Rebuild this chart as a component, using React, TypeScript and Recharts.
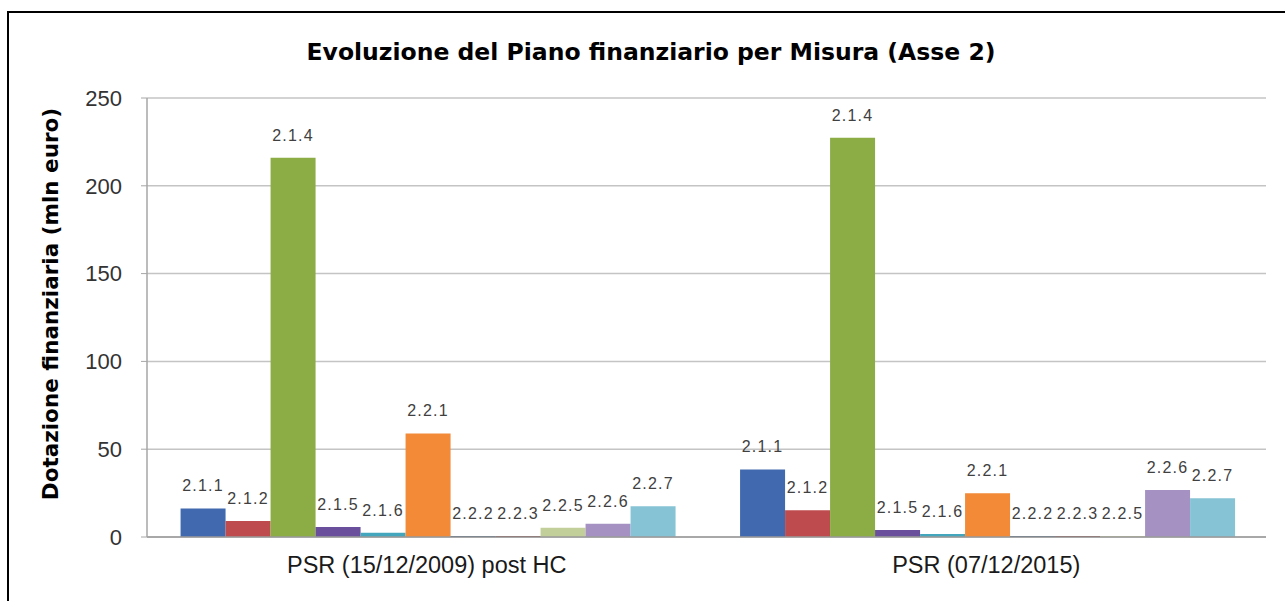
import React from "react";
import {
  BarChart,
  Bar,
  XAxis,
  YAxis,
  CartesianGrid,
  LabelList,
} from "recharts";

const categories = ["PSR (15/12/2009) post HC", "PSR (07/12/2015)"];

const misure = [
  "2.1.1",
  "2.1.2",
  "2.1.4",
  "2.1.5",
  "2.1.6",
  "2.2.1",
  "2.2.2",
  "2.2.3",
  "2.2.5",
  "2.2.6",
  "2.2.7",
];

// mln euro, one value per category
const m211 = [16.3, 38.5];
const m212 = [9.1, 15.2];
const m214 = [216, 227.4];
const m215 = [5.7, 4];
const m216 = [2.4, 1.7];
const m221 = [59, 24.9];
const m222 = [0, 0];
const m223 = [0, 0];
const m225 = [5.3, 0];
const m226 = [7.6, 26.8];
const m227 = [17.5, 22];

const yTicks = [0, 50, 100, 150, 200, 250];

const COLORS: Record<string, string> = {
  "2.1.1": "#4169b0",
  "2.1.2": "#be4b4d",
  "2.1.4": "#8cad45",
  "2.1.5": "#6a4f9c",
  "2.1.6": "#44a6bd",
  "2.2.1": "#f28a38",
  "2.2.2": "#2c4d75",
  "2.2.3": "#772c2a",
  "2.2.5": "#c3cf9a",
  "2.2.6": "#a592c3",
  "2.2.7": "#86c3d5",
};

const seriesValues = [m211, m212, m214, m215, m216, m221, m222, m223, m225, m226, m227];

const data = categories.map((cat, i) => {
  const row: Record<string, string | number> = { name: cat };
  misure.forEach((m, j) => {
    row[m] = seriesValues[j][i];
  });
  return row;
});

const FONT = "'Liberation Sans', Arial, sans-serif";
const BOLD_FONT = "'DejaVu Sans', sans-serif";

export default function App() {
  return (
    <div
      style={{
        position: "absolute",
        left: 0,
        top: 0,
        width: 1285,
        height: 601,
        background: "#fff",
        fontFamily: FONT,
        overflow: "hidden",
      }}
    >
      <div
        style={{
          position: "absolute",
          left: 7,
          top: 11,
          width: 1290,
          height: 600,
          borderLeft: "2px solid #000",
          borderTop: "2px solid #000",
        }}
      />
      <div
        style={{
          position: "absolute",
          left: 651,
          top: 38,
          transform: "translateX(-50%)",
          whiteSpace: "nowrap",
          fontWeight: "bold",
          fontFamily: BOLD_FONT,
          fontSize: 23.5,
          color: "#000",
        }}
      >
        Evoluzione del Piano finanziario per Misura (Asse 2)
      </div>
      <div
        style={{
          position: "absolute",
          left: 50,
          top: 304,
          transform: "translate(-50%, -50%) rotate(-90deg)",
          whiteSpace: "nowrap",
          fontWeight: "bold",
          fontFamily: BOLD_FONT,
          fontSize: 21.5,
          color: "#000",
        }}
      >
        Dotazione finanziaria (mln euro)
      </div>
      <BarChart
        width={1285}
        height={601}
        data={data}
        margin={{ top: 98, right: 19, bottom: 0, left: 0 }}
        barCategoryGap="6%"
        barGap={0}
        style={{ position: "absolute", left: 0, top: 0 }}
      >
        <CartesianGrid vertical={false} stroke="#c4c4c4" strokeWidth={1.5} />
        <XAxis
          dataKey="name"
          height={64}
          tickLine={false}
          tickMargin={13}
          axisLine={{ stroke: "#9a9a9a", strokeWidth: 1.5 }}
          tick={{ fill: "#1a1a1a", fontSize: 23.5, fontFamily: FONT }}
        />
        <YAxis
          width={147}
          domain={[0, 250]}
          ticks={yTicks}
          tickSize={6}
          tickMargin={19}
          axisLine={{ stroke: "#a6a6a6", strokeWidth: 1.5 }}
          tickLine={{ stroke: "#a6a6a6" }}
          tick={{ fill: "#333", fontSize: 22, fontFamily: FONT }}
        />
        {misure.map((m) => (
          <Bar
            key={m}
            dataKey={m}
            fill={COLORS[m]}
            minPointSize={1}
            isAnimationActive={false}
          >
            <LabelList
              dataKey={m}
              position="top"
              offset={17}
              formatter={() => m}
              style={{
                fill: "#404040",
                fontSize: 16,
                fontFamily: FONT,
                letterSpacing: 1.2,
              }}
            />
          </Bar>
        ))}
      </BarChart>
    </div>
  );
}
